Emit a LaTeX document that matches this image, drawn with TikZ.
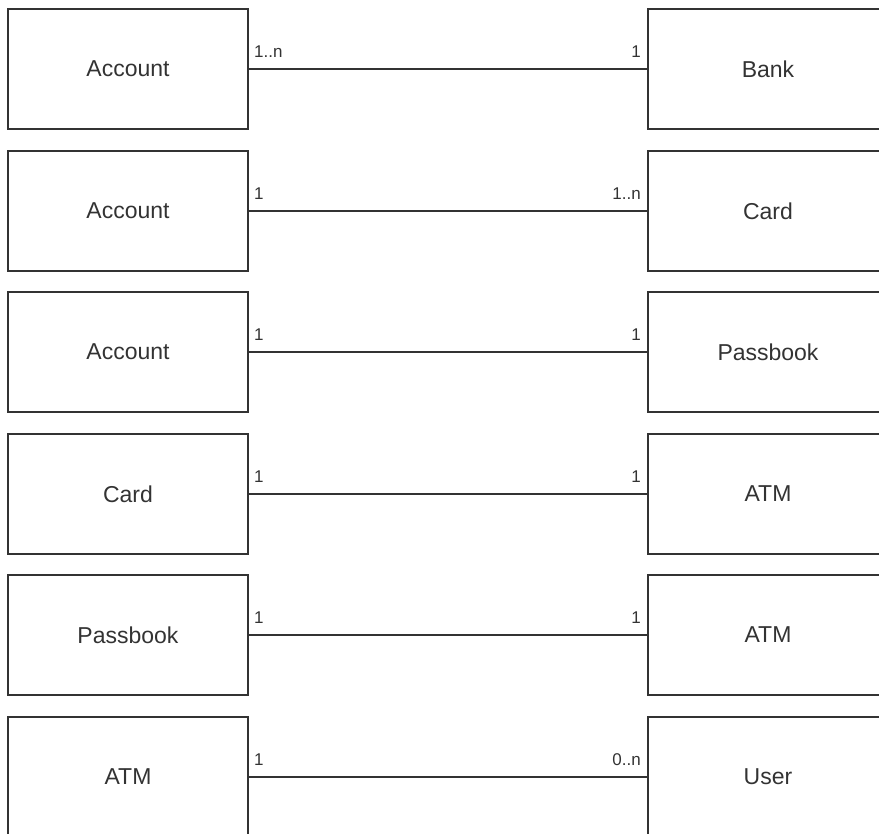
\documentclass[tikz,border=0pt]{standalone}
\usepackage{fontspec}
\setmainfont{Liberation Sans}
\usetikzlibrary{positioning}
\definecolor{inkgray}{HTML}{333333}
\tikzset{
  entity/.style={draw=inkgray, line width=2pt, minimum width=240pt, minimum height=120pt,
    inner sep=0pt, text=inkgray, font=\fontsize{23}{27}\selectfont},
  link/.style={draw=inkgray, line width=2pt},
  mult/.style={text=inkgray, font=\fontsize{17}{20}\selectfont, inner sep=0pt}
}
\begin{document}
\begin{tikzpicture}[x=1pt, y=-1pt]
  \useasboundingbox (0,0) rectangle (879,834);
  \clip (0,0) rectangle (879,834);
  \foreach \i/\y/\lname/\rname/\lm/\rm in {
      0/69/Account/Bank/1..n/1,
      1/211/Account/Card/1/1..n,
      2/352/Account/Passbook/1/1,
      3/494/Card/ATM/1/1,
      4/635/Passbook/ATM/1/1,
      5/777/ATM/User/1/0..n} {
    \node[entity] (L\i) at (128, \y) {\lname};
    \node[entity] (R\i) at (768, \y) {\rname};
    \draw[link] (L\i.east) -- (R\i.west);
    \node[mult, anchor=south west] at ([xshift=5pt, yshift=11pt]L\i.east) {\lm};
    \node[mult, anchor=south east] at ([xshift=-6pt, yshift=11pt]R\i.west) {\rm};
  }
\end{tikzpicture}
\end{document}
